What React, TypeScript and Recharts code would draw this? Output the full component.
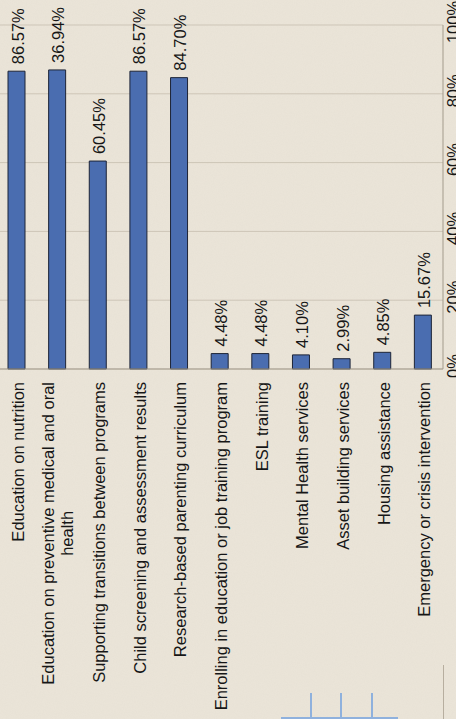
import { BarChart, Bar, XAxis, YAxis, CartesianGrid, LabelList } from 'recharts';

const categories = [
  'Education on nutrition',
  'Education on preventive medical and oral\nhealth',
  'Supporting transitions between programs',
  'Child screening and assessment results',
  'Research-based parenting curriculum',
  'Enrolling in education or job training program',
  'ESL training',
  'Mental Health services',
  'Asset building services',
  'Housing assistance',
  'Emergency or crisis intervention',
];

const shares = [86.57, 86.94, 60.45, 86.57, 84.7, 4.48, 4.48, 4.1, 2.99, 4.85, 15.67];

// value labels as printed on the reference
const shareLabels = ['86.57%', '36.94%', '60.45%', '86.57%', '84.70%', '4.48%', '4.48%', '4.10%', '2.99%', '4.85%', '15.67%'];

const percentTicks = [0, 20, 40, 60, 80, 100];

const data = categories.map((name, i) => ({ name, value: shares[i] }));

const FONT = '"Liberation Sans", Arial, sans-serif';
const SIZE = 16.5;
const TEXT = '#161616';

let ctx: CanvasRenderingContext2D | null = null;
function textWidth(s: string) {
  if (!ctx) ctx = document.createElement('canvas').getContext('2d');
  if (!ctx) return s.length * 8;
  ctx.font = `${SIZE}px ${FONT}`;
  return ctx.measureText(s).width;
}

function CategoryTick(props: any) {
  const { x, y, payload } = props;
  const lines = String(payload.value).split('\n');
  const top = y + 13;
  if (lines.length === 1) {
    return (
      <text transform={`translate(${x + 7.5},${top}) rotate(-90)`} textAnchor="end" fontFamily={FONT} fontSize={SIZE} fill={TEXT}>
        {lines[0]}
      </text>
    );
  }
  const w = textWidth(lines[0]);
  return (
    <g>
      <text transform={`translate(${x - 2.5},${top}) rotate(-90)`} textAnchor="end" fontFamily={FONT} fontSize={SIZE} fill={TEXT}>
        {lines[0]}
      </text>
      <text transform={`translate(${x + 16.5},${top + w / 2}) rotate(-90)`} textAnchor="middle" fontFamily={FONT} fontSize={SIZE} fill={TEXT}>
        {lines[1]}
      </text>
    </g>
  );
}

function PercentTick(props: any) {
  const { x, y, payload } = props;
  return (
    <text transform={`translate(${x + 15.5},${y - 3}) rotate(-90)`} textAnchor="middle" fontFamily={FONT} fontSize={SIZE} fill={TEXT}>
      {`${payload.value}%`}
    </text>
  );
}

function ValueLabel(props: any) {
  const { x, y, width, index } = props;
  const cx = x + width / 2;
  return (
    <text transform={`translate(${cx + 7},${y - 7}) rotate(-90)`} textAnchor="start" fontFamily={FONT} fontSize={SIZE} fill={TEXT}>
      {shareLabels[index]}
    </text>
  );
}

export default function App() {
  return (
    <div
      style={{
        position: 'absolute',
        left: 0,
        top: 0,
        width: 456,
        height: 719,
        overflow: 'hidden',
        background: '#ebe5d9',
      }}
    >
      <svg width={456} height={719} style={{ position: 'absolute', left: 0, top: 0 }}>
        <filter id="paper">
          <feTurbulence type="fractalNoise" baseFrequency="0.9" numOctaves={2} seed={4} />
          <feColorMatrix type="matrix" values="0 0 0 0 0.55  0 0 0 0 0.5  0 0 0 0 0.42  0 0 0 0.35 0" />
        </filter>
        <rect width={456} height={719} filter="url(#paper)" opacity={0.25} />
      </svg>
      <div style={{ position: 'absolute', left: -4, top: 0 }}>
        <BarChart width={467} height={719} data={data} margin={{ top: 25, right: 0, left: 0, bottom: 0 }} barCategoryGap={0}>
          <CartesianGrid vertical={false} stroke="#cdc5b7" />
          <XAxis
            dataKey="name"
            interval={0}
            height={350}
            tickLine={false}
            tickSize={0}
            tickMargin={0}
            axisLine={{ stroke: '#a39b8c' }}
            tick={<CategoryTick />}
          />
          <YAxis
            orientation="right"
            width={20}
            domain={[0, 100]}
            ticks={percentTicks}
            tickLine={false}
            tickSize={0}
            tickMargin={0}
            axisLine={{ stroke: '#a39b8c' }}
            tick={<PercentTick />}
          />
          <Bar dataKey="value" barSize={17} fill="#4a6db0" stroke="#1d2436" strokeWidth={1} isAnimationActive={false}>
            <LabelList dataKey="value" content={<ValueLabel />} />
          </Bar>
        </BarChart>
      </div>
      <svg width={456} height={719} style={{ position: 'absolute', left: 0, top: 0, pointerEvents: 'none' }}>
        <g stroke="#8fb1dd" strokeWidth={2}>
          <line x1={281} y1={718} x2={398} y2={718} />
          <line x1={311} y1={693} x2={311} y2={719} />
          <line x1={341} y1={693} x2={341} y2={719} />
          <line x1={372} y1={693} x2={372} y2={719} />
        </g>
        <line x1={443.5} y1={665} x2={443.5} y2={719} stroke="#b7ae9f" strokeWidth={1} />
      </svg>
    </div>
  );
}
